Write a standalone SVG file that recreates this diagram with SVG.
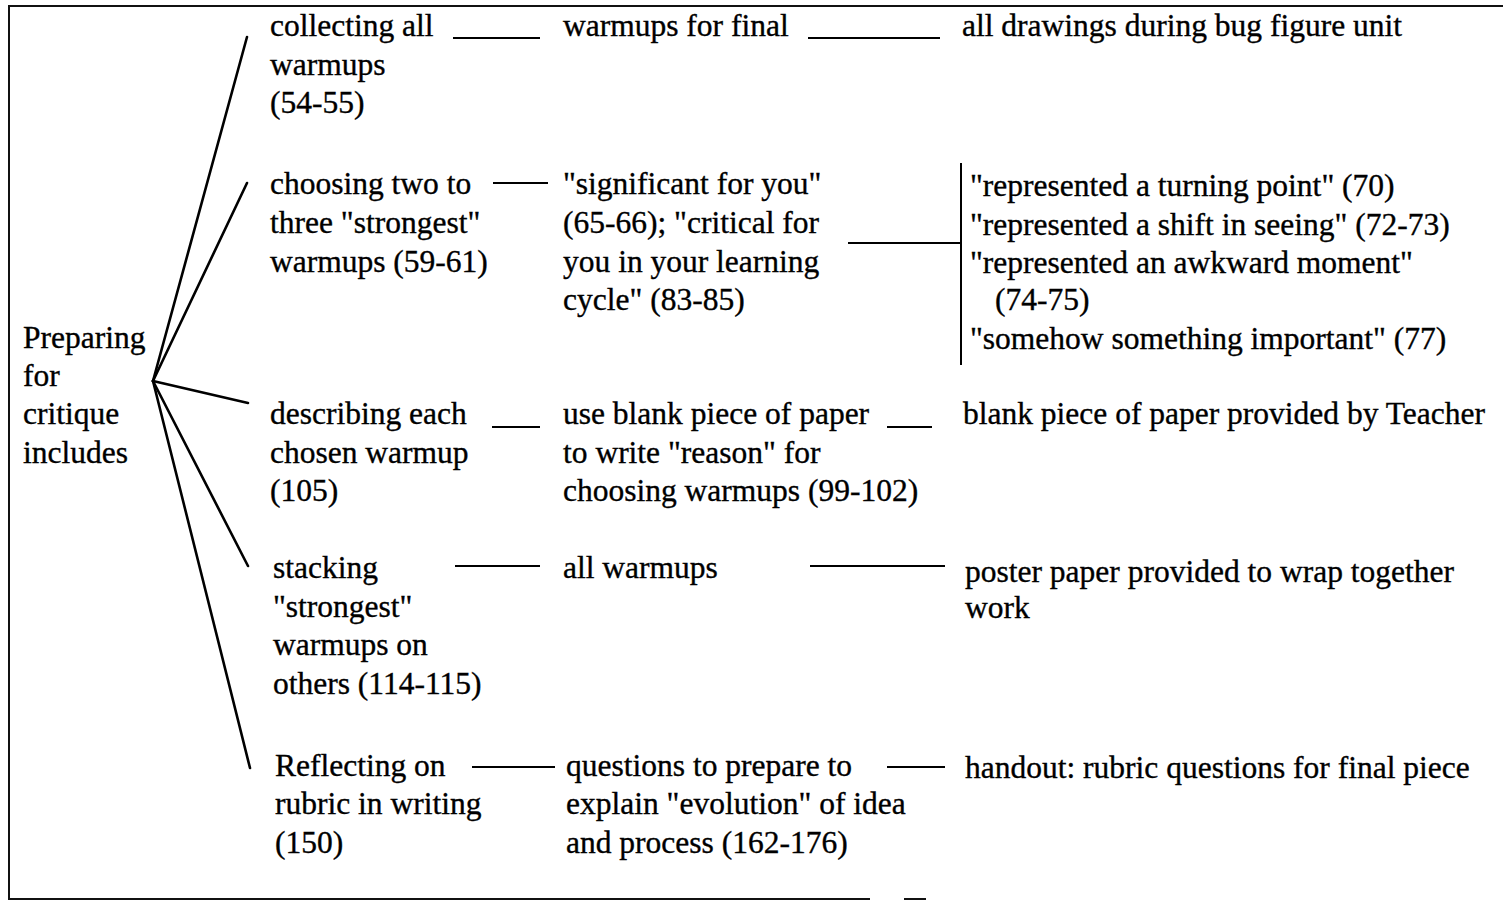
<svg xmlns="http://www.w3.org/2000/svg" width="1503" height="902" viewBox="0 0 1503 902">
  <style>
    text { font-family: "Liberation Serif", "Times New Roman", serif; font-size: 31.5px; fill: #000; stroke: #000; stroke-width: 0.35; }
    .frame { stroke: #111; stroke-width: 2; fill: none; }
    .fan { stroke: #000; stroke-width: 2.6; fill: none; stroke-linecap: round; }
    .link { stroke: #000; stroke-width: 2; fill: none; }
  </style>
  <rect width="1503" height="902" fill="#fff"/>

  <!-- page frame (open on the right) -->
  <g id="frame">
    <path class="frame" d="M1503 6 H9 V899 H870"/>
    <path class="frame" d="M904 899 H926"/>
  </g>

  <!-- connectors -->
  <g id="connectors">
    <!-- fan from the root -->
    <path class="fan" d="M153 381 L247 37"/>
    <path class="fan" d="M153 381 L247 183"/>
    <path class="fan" d="M153 381 L248 403"/>
    <path class="fan" d="M153 381 L248 566"/>
    <path class="fan" d="M153 381 L250 768"/>
    <!-- row links -->
    <path class="link" d="M453 38 H540"/>
    <path class="link" d="M808 38 H940"/>
    <path class="link" d="M493 183 H548"/>
    <path class="link" d="M848 243 H961"/>
    <path class="link" d="M961 163 V365"/>
    <path class="link" d="M492 427 H540"/>
    <path class="link" d="M887 427 H932"/>
    <path class="link" d="M455 566 H540"/>
    <path class="link" d="M810 566 H945"/>
    <path class="link" d="M472 767 H555"/>
    <path class="link" d="M887 767 H945"/>
  </g>

  <g id="root">
    <text x="23" y="348">Preparing</text>
    <text x="23" y="386">for</text>
    <text x="23" y="424">critique</text>
    <text x="23" y="463">includes</text>
  </g>

  <!-- row 1 -->
  <g id="collecting">
    <text x="270" y="36">collecting all</text>
    <text x="270" y="75">warmups</text>
    <text x="270" y="113">(54-55)</text>
  </g>
  <g id="warmups-final">
    <text x="563" y="36">warmups for final</text>
  </g>
  <g id="all-drawings">
    <text x="962" y="36">all drawings during bug figure unit</text>
  </g>

  <!-- row 2 -->
  <g id="choosing">
    <text x="270" y="194">choosing two to</text>
    <text x="270" y="233">three "strongest"</text>
    <text x="270" y="272">warmups (59-61)</text>
  </g>
  <g id="significant">
    <text x="563" y="194">"significant for you"</text>
    <text x="563" y="233">(65-66); "critical for</text>
    <text x="563" y="272">you in your learning</text>
    <text x="563" y="310">cycle" (83-85)</text>
  </g>
  <g id="represented">
    <text x="970" y="196">"represented a turning point" (70)</text>
    <text x="970" y="235">"represented a shift in seeing" (72-73)</text>
    <text x="970" y="273">"represented an awkward moment"</text>
    <text x="995" y="310">(74-75)</text>
    <text x="970" y="349">"somehow something important" (77)</text>
  </g>

  <!-- row 3 -->
  <g id="describing">
    <text x="270" y="424">describing each</text>
    <text x="270" y="463">chosen warmup</text>
    <text x="270" y="501">(105)</text>
  </g>
  <g id="blank-paper-use">
    <text x="563" y="424">use blank piece of paper</text>
    <text x="563" y="463">to write "reason" for</text>
    <text x="563" y="501">choosing warmups (99-102)</text>
  </g>
  <g id="blank-paper-teacher">
    <text x="963" y="424">blank piece of paper provided by Teacher</text>
  </g>

  <!-- row 4 -->
  <g id="stacking">
    <text x="273" y="578">stacking</text>
    <text x="273" y="617">"strongest"</text>
    <text x="273" y="655">warmups on</text>
    <text x="273" y="694">others (114-115)</text>
  </g>
  <g id="all-warmups">
    <text x="563" y="578">all warmups</text>
  </g>
  <g id="poster-paper">
    <text x="965" y="582">poster paper provided to wrap together</text>
    <text x="965" y="618">work</text>
  </g>

  <!-- row 5 -->
  <g id="reflecting">
    <text x="275" y="776">Reflecting on</text>
    <text x="275" y="814">rubric in writing</text>
    <text x="275" y="853">(150)</text>
  </g>
  <g id="questions">
    <text x="566" y="776">questions to prepare to</text>
    <text x="566" y="814">explain "evolution" of idea</text>
    <text x="566" y="853">and process (162-176)</text>
  </g>
  <g id="handout">
    <text x="965" y="778">handout: rubric questions for final piece</text>
  </g>
</svg>
